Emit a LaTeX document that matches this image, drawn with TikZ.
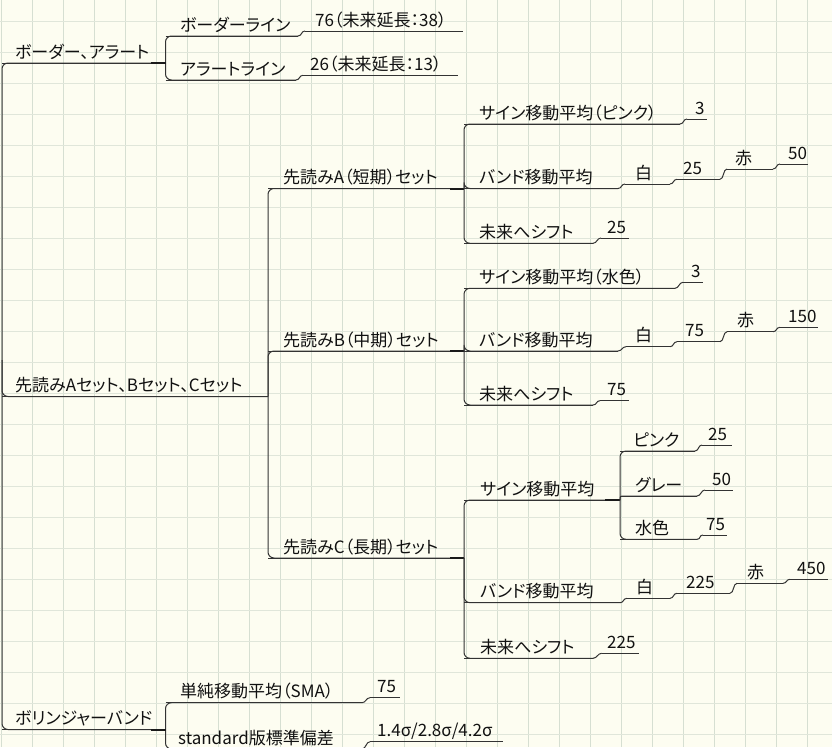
\documentclass[tikz,border=0pt]{standalone}
\usepackage{fontspec}
\newfontfamily\jp[RawFeature=+palt]{Noto Sans CJK JP}
\definecolor{bgc}{HTML}{FDFDF1}
\definecolor{gridc}{HTML}{D6DFD2}
\definecolor{linec}{HTML}{333333}
\definecolor{stubc}{HTML}{1A1A1A}
\definecolor{txt}{HTML}{111111}
\tikzset{
  gridv/.style={draw=gridc, line width=1.1pt},
  gridh/.style={draw=gridc!75!bgc, line width=0.8pt},
  ln/.style={draw=linec, line width=1pt},
  br/.style={ln, rounded corners=6pt},
  stub/.style={draw=stubc, line width=2pt},
  lbl/.style={anchor=base west, inner sep=0pt, text=txt, font=\jp\fontsize{17}{20}\selectfont},
}
\newcommand\mmtopic[6]{%
  \coordinate (#1-s) at ({#2},{#4});
  \coordinate (#1-e) at ({#3},{#4});
  \node[lbl] (#1) at ({#5},{#4-5}) {#6};
  \draw[ln] (#1-s) -- (#1-e);
}
\newcommand\mmstep[2]{\draw[ln] (#1-e) .. controls +(4,0) and +(-4,0) .. (#2-s);}
\begin{document}
\begin{tikzpicture}[x=1pt,y=-1pt]
\useasboundingbox (0,0) rectangle (832,747);
\fill[bgc] (0,0) rectangle (832,747);
\foreach \i in {0,...,26} \draw[gridv] ({1.3+31*\i},0) -- ({1.3+31*\i},747);
\foreach \j in {0,...,23} \draw[gridh] (0,{21.3+31*\j}) -- (832,{21.3+31*\j});

\coordinate (root) at (2,360);
% level 1
\mmtopic{ba}{2}{165.5}{63}{15}{ボーダー、アラート}
\mmtopic{ys}{2}{268}{396.5}{15}{先読みAセット、Bセット、Cセット}
\mmtopic{bb}{2}{165.5}{729.5}{15}{ボリンジャーバンド}
\draw[br] (root) |- (ba-e);
\draw[br] (root) |- (ys-e);
\draw[br] (root) |- (bb-e);

% border / alert
\mmtopic{bl}{165.5}{298}{36}{180}{ボーダーライン}
\mmtopic{blv}{305}{463}{31}{315}{76（未来延長：38）}
\mmtopic{al}{165.5}{296}{80}{180}{アラートライン}
\mmtopic{alv}{303}{458}{75.3}{310}{26（未来延長：13）}
\draw[br] (ba-e) |- (bl-e);
\draw[br] (ba-e) |- (al-e);
\mmstep{bl}{blv}
\mmstep{al}{alv}
\draw[stub] ([xshift=-15pt]ba-e) -- (ba-e);

% sakiyomi sets
\mmtopic{sa}{268}{464}{188.5}{283}{先読みA（短期）セット}
\mmtopic{sb}{268}{464}{351}{283}{先読みB（中期）セット}
\mmtopic{sc}{268}{464}{558}{283}{先読みC（長期）セット}
\draw[br] (ys-e) |- (sa-e);
\draw[br] (ys-e) |- (sb-e);
\draw[br] (ys-e) |- (sc-e);
\draw[stub] ([xshift=-14pt]sa-e) -- (sa-e);
\draw[stub] ([xshift=-14pt]sb-e) -- (sb-e);
\draw[stub] ([xshift=-14pt]sc-e) -- (sc-e);

% A
\mmtopic{a1}{464}{680}{124}{479}{サイン移動平均（ピンク）}
\mmtopic{a1v}{687}{707}{119}{695}{3}
\mmtopic{a2}{464}{618}{188.5}{479}{バンド移動平均}
\mmtopic{a2w}{625}{670}{184}{635}{白}
\mmtopic{a2x}{677}{720}{179.3}{683}{25}
\mmtopic{a2r}{727}{773}{169}{735}{赤}
\mmtopic{a2y}{780}{808}{164}{788}{50}
\mmtopic{a3}{464}{593}{243.3}{479}{未来へシフト}
\mmtopic{a3v}{601}{629}{238}{607}{25}
\draw[br] (sa-e) |- (a1-e);
\draw[br] (sa-e) |- (a2-e);
\draw[br] (sa-e) |- (a3-e);
\mmstep{a1}{a1v}
\mmstep{a2}{a2w}\mmstep{a2w}{a2x}\mmstep{a2x}{a2r}\mmstep{a2r}{a2y}
\mmstep{a3}{a3v}

% B
\mmtopic{b1}{464}{675}{288.3}{479}{サイン移動平均（水色）}
\mmtopic{b1v}{683}{703}{282.3}{691}{3}
\mmtopic{b2}{464}{618}{351}{479}{バンド移動平均}
\mmtopic{b2w}{626}{670}{346.7}{635}{白}
\mmtopic{b2x}{677}{720}{341.7}{685}{75}
\mmtopic{b2r}{727}{773}{331.7}{737}{赤}
\mmtopic{b2y}{780}{818}{327.3}{788}{150}
\mmtopic{b3}{464}{593}{405}{479}{未来へシフト}
\mmtopic{b3v}{600}{629}{400.7}{607}{75}
\draw[br] (sb-e) |- (b1-e);
\draw[br] (sb-e) |- (b2-e);
\draw[br] (sb-e) |- (b3-e);
\mmstep{b1}{b1v}
\mmstep{b2}{b2w}\mmstep{b2w}{b2x}\mmstep{b2x}{b2r}\mmstep{b2r}{b2y}
\mmstep{b3}{b3v}

% C
\mmtopic{c1}{464}{620}{500}{480}{サイン移動平均}
\mmtopic{c2}{464}{620}{602.7}{480}{バンド移動平均}
\mmtopic{c2w}{627}{670}{598.3}{636}{白}
\mmtopic{c2x}{677}{730}{593.3}{686}{225}
\mmtopic{c2r}{737}{783}{583.3}{747}{赤}
\mmtopic{c2y}{790}{828}{579.3}{797}{450}
\mmtopic{c3}{464}{593}{658.3}{480}{未来へシフト}
\mmtopic{c3v}{601.7}{639}{653.3}{607}{225}
\draw[br] (sc-e) |- (c1-e);
\draw[br] (sc-e) |- (c2-e);
\draw[br] (sc-e) |- (c3-e);
\mmstep{c2}{c2w}\mmstep{c2w}{c2x}\mmstep{c2x}{c2r}\mmstep{c2r}{c2y}
\mmstep{c3}{c3v}
\draw[stub] ([xshift=-15pt]c1-e) -- (c1-e);

% C sine colours
\mmtopic{p1}{620}{695}{451}{633}{ピンク}
\mmtopic{p1v}{702}{732}{445}{708}{25}
\mmtopic{p2}{620}{697}{496}{635}{グレー}
\mmtopic{p2v}{705}{733}{490}{712}{50}
\mmtopic{p3}{620}{697}{539.3}{635}{水色}
\mmtopic{p3v}{703}{727}{535}{706}{75}
\draw[br] (c1-e) |- (p1-e);
\draw[ln, rounded corners=2pt] (c1-e) |- (p2-e);
\draw[br] (c1-e) |- (p3-e);
\mmstep{p1}{p1v}\mmstep{p2}{p2v}\mmstep{p3}{p3v}

% Bollinger
\mmtopic{sma}{165.5}{362}{702.7}{180}{単純移動平均（SMA）}
\mmtopic{smav}{370}{400}{697.7}{377}{75}
\mmtopic{std}{165.5}{362}{749}{178}{standard版標準偏差}
\mmtopic{stdv}{370}{503}{741.7}{377}{1.4σ/2.8σ/4.2σ}
\draw[br] (bb-e) |- (sma-e);
\draw[br] (bb-e) |- (std-e);
\mmstep{sma}{smav}
\mmstep{std}{stdv}
\draw[stub] ([xshift=-15pt]bb-e) -- (bb-e);
\end{tikzpicture}
\end{document}
